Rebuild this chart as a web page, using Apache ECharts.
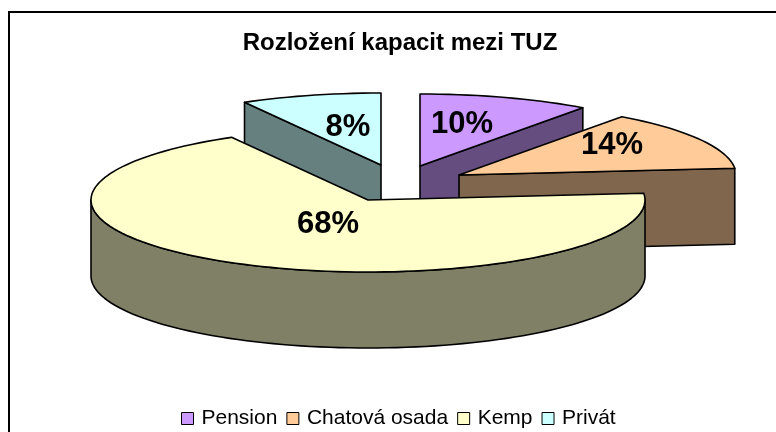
<!DOCTYPE html>
<html>
<head>
<meta charset="utf-8">
<style>
  html, body { margin: 0; padding: 0; background: #fff; }
  #chart { width: 776px; height: 432px; }
</style>
<script src="https://cdn.jsdelivr.net/npm/echarts@6/dist/echarts.min.js"></script>
</head>
<body>
<div id="chart"></div>
<script>
const categories = ['Pension', 'Chatová osada', 'Kemp', 'Privát']
const shares = [10, 13.5, 68.3, 8.2]
const topColors = ['#CC99FF', '#FFCC99', '#FFFFCC', '#CCFFFF']
const sideColors = ['#664D80', '#80664D', '#808066', '#668080']

// pixel position of each exploded slice's tip, and of its label
const tips = [[420, 166], [459, 175], [368, 200], [381, 165]]
const labelSpots = [[462, 124], [612, 145], [328, 224], [348, 127]]
const drawOrder = [0, 3, 1, 2]

const RX = 277
const RY = 72
const DEPTH = 76

const total = shares.reduce((a, b) => a + b, 0)

const rimPoint = (tip, deg) => {
  const a = deg * Math.PI / 180
  return [tip[0] + RX * Math.sin(a), tip[1] - RY * Math.cos(a)]
}

const arcPoints = (tip, from, to) => {
  const steps = Math.max(2, Math.ceil(Math.abs(to - from) / 2))
  const pts = []
  for (let i = 0; i <= steps; i++) pts.push(rimPoint(tip, from + (to - from) * i / steps))
  return pts
}

const down = pts => pts.map(p => [p[0], p[1] + DEPTH])

const faceStyle = fill => ({ fill, stroke: '#000', lineWidth: 1.6, lineJoin: 'round' })

const renderSlice = idx => () => {
  const before = shares.slice(0, idx).reduce((a, b) => a + b, 0)
  const start = before / total * 360
  const end = (before + shares[idx]) / total * 360
  const tip = tips[idx]
  const children = []
  const side = sideColors[idx]

  // cut face turned towards the viewer
  const cutAngle = start < 90 && end <= 90 ? end : (end <= 360 && start > 270 ? start : null)
  if (cutAngle !== null) {
    const edge = [tip, rimPoint(tip, cutAngle)]
    children.push({
      type: 'polygon',
      shape: { points: edge.concat(down(edge).reverse()) },
      style: faceStyle(side)
    })
  }

  // outer wall, only the front half of the ellipse shows
  const wallFrom = Math.max(start, 90)
  const wallTo = Math.min(end, 270)
  if (wallFrom < wallTo) {
    const arc = arcPoints(tip, wallFrom, wallTo)
    children.push({
      type: 'polygon',
      shape: { points: arc.concat(down(arc).reverse()) },
      style: faceStyle(side)
    })
  }

  children.push({
    type: 'polygon',
    shape: { points: [tip].concat(arcPoints(tip, start, end)) },
    style: faceStyle(topColors[idx])
  })

  children.push({
    type: 'text',
    style: {
      text: Math.round(shares[idx] / total * 100) + '%',
      x: labelSpots[idx][0],
      y: labelSpots[idx][1],
      align: 'center',
      verticalAlign: 'middle',
      fill: '#000',
      font: 'bold 31px "Liberation Sans", Arial, sans-serif'
    }
  })

  return { type: 'group', children }
}

const option = {
  animation: false,
  backgroundColor: '#fff',
  title: {
    text: 'Rozložení kapacit mezi TUZ',
    left: 395,
    top: 26,
    textAlign: 'center',
    textStyle: { fontFamily: '"Liberation Sans", Arial, sans-serif', fontWeight: 'bold', fontSize: 24, color: '#000' }
  },
  legend: {
    data: categories,
    top: 403,
    left: 176,
    icon: 'rect',
    itemWidth: 12,
    itemHeight: 12,
    itemGap: 9,
    itemStyle: { borderColor: '#000', borderWidth: 1 },
    textStyle: { fontFamily: '"Liberation Sans", Arial, sans-serif', fontSize: 21, color: '#000', padding: [0, 0, 0, 3] }
  },
  graphic: [{
    type: 'rect',
    silent: true,
    z: -1,
    shape: { x: 9, y: 12, width: 800, height: 800 },
    style: { fill: '#fff', stroke: '#000', lineWidth: 2 }
  }],
  xAxis: { show: false },
  yAxis: { show: false },
  series: categories.map((name, idx) => ({
    type: 'custom',
    name,
    coordinateSystem: 'none',
    z: 2 + drawOrder.indexOf(idx),
    itemStyle: { color: topColors[idx], borderColor: '#000' },
    data: [shares[idx]],
    renderItem: renderSlice(idx),
    silent: true
  }))
}

const chart = echarts.init(document.getElementById('chart'))
chart.setOption(option)
</script>
</body>
</html>
